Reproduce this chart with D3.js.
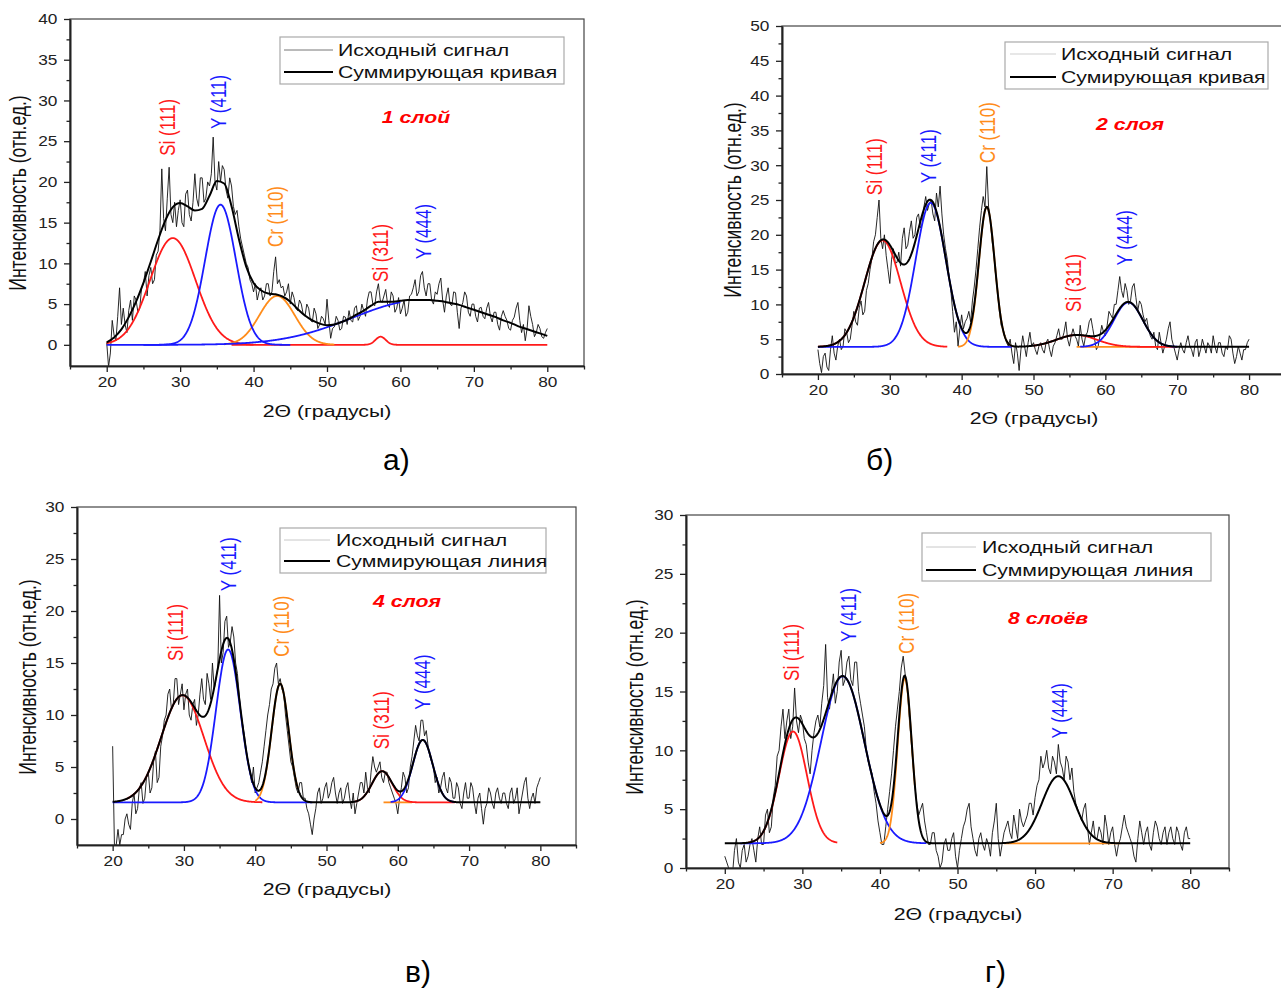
<!DOCTYPE html>
<html>
<head>
<meta charset="utf-8">
<script src="https://cdn.jsdelivr.net/npm/d3@7"></script>
<style>
  body { margin: 0; background: #fff; }
  svg text { font-family: "Liberation Sans", Arial, sans-serif; }
</style>
</head>
<body>
<svg id="fig" width="1281" height="989"></svg>
<script>
// raw diffractograms, 2θ = 20..80 step 0.25 (one row = 5 degrees)
const RAW_X0 = 20, RAW_DX = 0.25;

const rawA = [
  0.3, -2.7, -1.0, 3.0, 1.2, 0.5, 3.5, 7.0, 2.5, 4.5, 2.5, 1.5, 4.2, 5.5, 3.0, 6.0, 5.5, 4.0, 4.5, 7.0,
  7.5, 9.0, 6.0, 8.5, 9.5, 7.5, 8.0, 11.0, 11.5, 14.0, 21.6, 15.5, 14.0, 18.0, 21.8, 16.0, 15.0, 17.5, 14.5, 16.5,
  17.8, 15.0, 14.5, 18.5, 19.0, 16.0, 15.2, 17.5, 21.0, 18.0, 17.0, 20.5, 20.5, 17.5, 18.0, 20.0, 19.5, 21.0, 25.5, 20.0,
  19.0, 22.5, 20.0, 22.0, 21.5, 19.0, 18.0, 20.5, 19.5, 17.0, 16.0, 16.5, 14.5, 13.0, 12.0, 11.0, 10.0, 9.5, 8.0, 7.5,
  6.5, 7.5, 5.5, 6.5, 7.0, 5.5, 6.0, 7.5, 7.5, 6.0, 6.5, 9.0, 10.8, 7.5, 8.0, 7.0, 7.2, 6.0, 6.5, 7.5,
  5.0, 6.5, 5.8, 4.5, 4.2, 5.5, 5.0, 3.8, 3.5, 5.0, 4.5, 3.0, 2.8, 4.5, 3.8, 2.0, 2.5, 3.5, 3.2, 2.5,
  5.6, 3.0, 0.8, 2.0, 2.2, 3.5, 3.0, 1.8, 2.0, 3.5, 3.4, 2.5, 4.2, 3.0, 2.8, 4.5, 4.8, 3.0, 3.5, 5.0,
  4.2, 3.5, 5.5, 6.5, 6.5, 5.0, 4.8, 6.5, 7.5, 5.5, 5.2, 6.0, 6.8, 5.0, 4.6, 6.5, 6.0, 4.0, 4.5, 5.8,
  3.8, 4.5, 5.5, 3.5, 4.0, 6.0, 6.2, 7.0, 8.0, 6.0, 6.5, 8.5, 9.0, 7.0, 6.0, 7.5, 7.5, 5.5, 5.0, 6.5,
  6.2, 7.5, 8.2, 5.5, 4.0, 6.0, 7.0, 5.0, 4.8, 6.5, 6.4, 4.0, 2.0, 4.5, 5.2, 6.5, 6.0, 4.0, 3.5, 5.0,
  5.0, 3.5, 2.8, 4.5, 4.6, 3.5, 3.2, 4.5, 5.2, 3.5, 2.8, 4.0, 4.0, 2.5, 1.8, 3.5, 4.2, 3.5, 3.0, 2.0,
  1.8, 3.0, 3.4, 4.5, 5.2, 3.0, 1.5, 2.5, 0.5, 2.0, 4.8, 3.5, 2.5, 1.0, 1.5, 2.5, 2.0, 1.0, 0.8, 1.5,
  2.0
];

const rawB = [
  3.5, 1.5, 0.2, 2.5, 3.0, 1.0, 0.5, 3.5, 5.5, 3.0, 2.0, 4.0, 5.0, 3.5, 4.0, 6.5, 6.0, 4.5, 5.0, 7.0,
  9.0, 7.5, 7.0, 9.5, 10.5, 8.5, 9.0, 12.0, 13.0, 15.0, 16.5, 19.0, 20.0, 22.5, 25.0, 19.5, 18.0, 20.0, 17.0, 15.0,
  13.0, 16.5, 18.0, 16.0, 16.0, 17.5, 15.5, 19.5, 21.0, 18.0, 18.5, 20.5, 22.0, 19.5, 20.0, 22.5, 23.0, 21.0, 21.5, 24.0,
  25.5, 23.5, 24.5, 25.0, 23.0, 22.0, 26.0, 24.0, 27.0, 23.0, 20.0, 18.0, 16.5, 14.0, 12.0, 9.0, 6.0, 7.5, 4.0, 6.5,
  8.5, 6.5, 7.5, 8.0, 9.0, 7.5, 10.5, 12.5, 15.0, 18.0, 21.0, 23.5, 25.5, 24.0, 29.8, 24.0, 22.0, 19.0, 17.0, 14.0,
  12.0, 9.0, 7.0, 6.5, 5.5, 4.5, 4.0, 5.0, 3.0, 1.5, 4.5, 3.0, 0.5, 3.5, 5.5, 4.0, 2.5, 4.5, 6.0, 4.0,
  4.5, 3.5, 2.8, 4.0, 4.5, 3.5, 3.0, 4.5, 5.0, 3.5, 2.5, 4.0, 4.5, 5.5, 6.5, 5.0, 5.0, 6.0, 7.5, 5.0,
  4.0, 5.5, 6.5, 5.5, 5.0, 4.0, 7.0, 5.0, 4.0, 5.5, 6.0, 7.5, 8.0, 6.5, 5.0, 3.5, 4.0, 5.5, 7.0, 6.0,
  5.5, 7.0, 9.0, 8.5, 8.0, 10.0, 10.0, 12.0, 14.0, 12.0, 11.0, 13.0, 12.0, 10.0, 10.5, 12.5, 13.0, 11.0, 9.0, 10.5,
  10.0, 8.5, 7.5, 8.0, 6.5, 5.5, 5.0, 6.0, 4.0, 3.5, 6.0, 4.5, 3.0, 4.0, 5.0, 6.5, 7.5, 5.0, 4.0, 3.0,
  2.0, 3.5, 4.5, 3.5, 3.0, 4.5, 5.5, 4.0, 3.5, 2.5, 4.5, 5.0, 2.5, 3.5, 5.0, 4.0, 3.0, 4.5, 4.0, 3.0,
  5.5, 4.0, 3.0, 4.5, 4.5, 3.0, 2.5, 4.0, 3.5, 5.5, 5.0, 3.0, 1.5, 2.5, 4.0, 3.0, 2.0, 3.5, 3.5, 4.5,
  5.0
];

const rawC = [
  7.0, -2.5, -2.5, -1.0, -2.5, -1.5, -1.5, 0.0, 0.5, -0.5, -1.0, 1.5, 2.5, 0.5, 1.0, 3.0, 3.5, 1.5, 2.0, 4.0,
  4.5, 2.5, 3.0, 5.5, 6.5, 3.5, 4.0, 7.0, 8.0, 9.5, 10.0, 12.0, 12.5, 10.5, 11.0, 13.5, 13.5, 11.0, 12.0, 13.0,
  10.5, 12.0, 12.5, 10.0, 9.5, 11.0, 11.5, 9.0, 10.0, 12.0, 13.5, 11.5, 11.0, 14.0, 13.0, 11.5, 15.0, 12.5, 13.5, 14.5,
  21.5, 15.0, 16.0, 19.0, 19.5, 16.5, 17.0, 18.5, 17.5, 15.0, 14.0, 12.0, 10.0, 9.0, 8.0, 6.5, 5.5, 4.5, 3.5, 5.0,
  2.5, 3.0, 3.5, 4.5, 5.5, 7.0, 8.5, 10.0, 11.0, 12.5, 13.0, 14.5, 15.0, 13.0, 13.5, 12.5, 12.0, 10.0, 8.5, 7.0,
  5.5, 5.0, 4.0, 3.0, 2.5, 3.5, 3.5, 2.0, 2.0, 1.0, 0.5, -0.5, -1.5, 0.0, 1.0, 2.5, 3.0, 1.5, 2.0, 3.0,
  3.5, 2.0, 2.5, 3.5, 4.0, 2.5, 1.5, 2.5, 3.0, 1.5, 2.0, 3.0, 3.5, 2.0, 1.0, 2.5, 0.5, 1.5, 2.5, 3.5,
  3.5, 2.5, 4.5, 3.0, 2.5, 4.5, 6.0, 5.0, 4.5, 5.0, 5.5, 4.0, 3.5, 4.5, 4.5, 3.5, 3.0, 2.5, 2.0, 1.5,
  0.5, 2.0, 3.0, 4.5, 4.0, 2.5, 3.0, 5.0, 6.0, 7.5, 9.0, 8.0, 7.5, 9.5, 9.5, 8.0, 8.5, 7.0, 6.0, 5.5,
  5.0, 3.5, 4.0, 2.5, 3.0, 4.0, 4.5, 3.0, 2.5, 4.0, 3.5, 2.0, 2.0, 3.5, 3.0, 1.5, 1.0, 2.5, 3.5, 2.0,
  2.0, 3.5, 3.0, 1.5, 0.5, 2.0, 2.5, 1.0, -0.5, 1.0, 1.5, 3.0, 2.5, 1.5, 1.0, 2.5, 3.0, 2.0, 1.5, 2.5,
  2.5, 1.5, 1.0, 2.5, 3.0, 1.5, 2.0, 3.0, 0.5, 1.5, 2.5, 3.5, 4.0, 2.0, 1.0, 2.0, 2.5, 1.5, 3.0, 3.5,
  4.0
];

const rawD = [
  1.0, 0.5, 0.0, -0.5, -0.5, 1.5, 2.5, 0.5, 0.0, 1.5, 2.0, 0.5, 1.0, 2.0, 2.5, 1.5, 0.5, 2.5, 3.5, 2.0,
  2.0, 4.5, 5.0, 3.0, 3.5, 6.0, 7.0, 9.5, 10.0, 12.0, 13.5, 11.0, 12.5, 13.5, 11.0, 12.0, 15.3, 12.5, 11.5, 13.0,
  12.5, 11.0, 10.5, 9.0, 8.0, 10.0, 11.5, 12.5, 13.0, 12.0, 14.0, 15.5, 19.0, 14.5, 13.5, 15.0, 16.5, 14.0, 15.0, 17.5,
  18.5, 15.5, 16.0, 17.5, 18.0, 16.0, 15.5, 17.5, 17.5, 15.0, 14.0, 13.0, 12.0, 10.0, 9.0, 8.5, 8.0, 6.5, 5.5, 4.0,
  3.0, 2.0, 2.0, 3.5, 5.0, 6.5, 8.0, 10.0, 12.0, 13.5, 15.0, 17.0, 18.0, 16.5, 15.5, 13.0, 11.0, 9.0, 7.0, 5.5,
  4.5, 5.0, 5.5, 4.0, 3.0, 2.0, 2.0, 3.0, 3.0, 1.5, 1.0, 0.0, 0.5, 2.0, 2.5, 1.5, 1.5, 2.5, 3.0, 1.0,
  0.0, 1.5, 2.5, 3.5, 4.0, 5.0, 5.5, 3.5, 2.5, 1.5, 1.0, 2.5, 3.0, 2.0, 1.5, 2.5, 2.0, 1.0, 3.0, 4.0,
  5.5, 2.5, 1.0, 2.0, 3.0, 3.5, 4.0, 3.0, 2.5, 4.5, 3.5, 2.5, 5.0, 4.0, 3.5, 4.0, 4.5, 5.5, 5.5, 4.5,
  6.0, 7.0, 7.5, 9.5, 8.5, 9.0, 10.0, 8.5, 8.0, 9.5, 9.0, 8.0, 10.5, 9.0, 8.5, 7.5, 9.5, 9.0, 7.5, 8.5,
  6.5, 5.5, 5.0, 4.5, 4.0, 5.0, 5.5, 3.5, 2.0, 3.0, 4.0, 2.5, 2.5, 3.5, 3.0, 2.0, 4.5, 3.5, 2.0, 3.0,
  3.5, 2.0, 1.0, 2.0, 2.5, 3.5, 4.5, 3.5, 3.0, 2.5, 2.0, 1.0, 0.5, 2.5, 4.0, 3.0, 2.0, 3.0, 3.5, 2.0,
  1.5, 3.0, 4.0, 3.5, 2.5, 2.0, 3.0, 3.5, 2.0, 3.0, 3.5, 2.5, 2.0, 3.5, 3.0, 2.0, 1.5, 3.0, 3.5, 2.5,
  2.5
];

// published envelope of panel a (it is not the plain sum of its drawn peaks), 20..80 step 1
const FIT_X0 = 20, FIT_DX = 1;
const fitA = [
  0.3, 0.9, 1.9, 3.4, 5.3, 7.6, 10.2, 12.9, 15.3, 16.9,
  17.4, 17.0, 16.5, 16.7, 18.3, 20.1, 19.8, 17.0, 13.0, 9.6,
  7.6, 6.7, 6.3, 6.2, 5.9, 5.3, 4.4, 3.6, 3.0, 2.6,
  2.4, 2.5, 2.8, 3.2, 3.7, 4.2, 4.8, 5.3, 5.3, 5.3,
  5.4, 5.5, 5.5, 5.5, 5.5, 5.4, 5.3, 5.1, 4.9, 4.6,
  4.3, 4.0, 3.7, 3.4, 3.0, 2.7, 2.3, 2.0, 1.7, 1.4,
  1.1
];

// fitted peaks: centre, height above baseline, sigma, drawn range
const baseA = 0, baseB = 3.9, baseC = 1.6, baseD = 2.1;

const peaksA = [
  { phase: "Si", center: 29.0, height: 13.1, sigma: 3.1, from: 20, to: 40 },
  { phase: "Si", center: 57.3, height: 1.0, sigma: 0.7, from: 37, to: 80 },
  { phase: "Cr", center: 43.2, height: 6.0, sigma: 2.4, from: 36, to: 51 },
  { phase: "Y", center: 35.5, height: 17.2, sigma: 2.1, from: 25, to: 45 },
  { phase: "Y", center: 63.0, height: 5.5, sigma: 9.5, from: 20, to: 60 }
];
const peaksB = [
  { phase: "Si", center: 29.0, height: 15.3, sigma: 2.5, from: 20, to: 38 },
  { phase: "Y", center: 35.7, height: 20.7, sigma: 2.1, from: 20, to: 47 },
  { phase: "Cr", center: 43.5, height: 20.1, sigma: 1.1, from: 39.5, to: 47 },
  { phase: "Cr", center: 62.0, height: 0, sigma: 1, from: 56, to: 68 },
  { phase: "Si", center: 56.0, height: 1.7, sigma: 2.8, from: 50, to: 70 },
  { phase: "Y", center: 63.2, height: 6.4, sigma: 2.0, from: 56.5, to: 70 }
];
const peaksC = [
  { phase: "Si", center: 29.8, height: 10.3, sigma: 3.0, from: 22, to: 41 },
  { phase: "Y", center: 36.2, height: 14.7, sigma: 1.7, from: 20, to: 48 },
  { phase: "Cr", center: 43.5, height: 11.4, sigma: 1.2, from: 40, to: 46 },
  { phase: "Cr", center: 60.0, height: 0, sigma: 1, from: 58, to: 62 },
  { phase: "Si", center: 57.8, height: 3.0, sigma: 1.4, from: 54, to: 68 },
  { phase: "Y", center: 63.5, height: 6.0, sigma: 1.4, from: 59, to: 68 }
];
const peaksD = [
  { phase: "Si", center: 28.8, height: 9.5, sigma: 1.8, from: 23, to: 34.5 },
  { phase: "Y", center: 35.2, height: 14.2, sigma: 2.8, from: 22, to: 46 },
  { phase: "Cr", center: 43.2, height: 14.0, sigma: 0.9, from: 40, to: 44.5 },
  { phase: "Cr", center: 63.0, height: 0, sigma: 1, from: 56, to: 71 },
  { phase: "Y", center: 63.0, height: 5.7, sigma: 2.1, from: 56, to: 71, hidden: true }
];

// reflection labels (2θ, intensity at the foot of the label)
const tagsA = [
  { text: "Si (111)", phase: "Si", x: 28.3, y: 23.2 },
  { text: "Y (411)", phase: "Y", x: 35.3, y: 26.5 },
  { text: "Cr (110)", phase: "Cr", x: 43.1, y: 12.0 },
  { text: "Si (311)", phase: "Si", x: 57.4, y: 7.7 },
  { text: "Y (444)", phase: "Y", x: 63.2, y: 10.5 }
];
const tagsB = [
  { text: "Si (111)", phase: "Si", x: 28.0, y: 25.7 },
  { text: "Y (411)", phase: "Y", x: 35.4, y: 27.4 },
  { text: "Cr (110)", phase: "Cr", x: 43.6, y: 30.3 },
  { text: "Si (311)", phase: "Si", x: 55.7, y: 8.9 },
  { text: "Y (444)", phase: "Y", x: 62.8, y: 15.6 }
];
const tagsC = [
  { text: "Si (111)", phase: "Si", x: 28.9, y: 15.2 },
  { text: "Y (411)", phase: "Y", x: 36.3, y: 21.9 },
  { text: "Cr (110)", phase: "Cr", x: 43.8, y: 15.6 },
  { text: "Si (311)", phase: "Si", x: 57.8, y: 6.7 },
  { text: "Y (444)", phase: "Y", x: 63.5, y: 10.5 }
];
const tagsD = [
  { text: "Si (111)", phase: "Si", x: 28.7, y: 15.9 },
  { text: "Y (411)", phase: "Y", x: 36.0, y: 19.2 },
  { text: "Cr (110)", phase: "Cr", x: 43.5, y: 18.2 },
  { text: "Y (444)", phase: "Y", x: 63.2, y: 11.0 }
];

const xMajorTicks = [20, 30, 40, 50, 60, 70, 80];
const xMinorTicks = [15, 25, 35, 45, 55, 65, 75, 85];

const legendRaw = "Исходный сигнал";
const PHASE_COLOR = { Si: "#ff1a1a", Y: "#1a1aff", Cr: "#ff8c1a" };
const KX = 1.33;      // the source figure is stretched horizontally
const KX_TICK = 1.15;
const FONT = '"Liberation Sans", Arial, sans-serif';

const panels = [
  {
    id: "a", raw: rawA, fit: fitA, base: baseA, peaks: peaksA, tags: tagsA,
    yDomain: [-2.6, 40], box: { l: 70, r: 584, t: 19, b: 366 },
    layer: "1 слой", layerPos: [416, 123],
    legend: { l: 280, r: 564, t: 37, b: 84, rows: [50, 72], sample: [284, 333], textX: 338, rawColor: "#777" },
    sumName: "Суммирующая кривая",
    yTitle: [26, 193], xTitle: [327, 417], caption: ["а)", 383, 470]
  },
  {
    id: "b", raw: rawB, fit: null, base: baseB, peaks: peaksB, tags: tagsB,
    yDomain: [0, 50], box: { l: 782, r: 1285, t: 26, b: 374 },
    layer: "2 слоя", layerPos: [1130, 130],
    legend: { l: 1005, r: 1268, t: 42, b: 89, rows: [54, 77], sample: [1010, 1056], textX: 1061, rawColor: "#cfcfcf" },
    sumName: "Сумирующая кривая",
    yTitle: [741, 200], xTitle: [1034, 424], caption: ["б)", 866, 470], clipY: 428
  },
  {
    id: "c", raw: rawC, fit: null, base: baseC, peaks: peaksC, tags: tagsC,
    yDomain: [-2.5, 30], box: { l: 77, r: 576, t: 507, b: 845 },
    layer: "4 слоя", layerPos: [407, 607],
    legend: { l: 280, r: 546, t: 528, b: 573, rows: [540, 561], sample: [284, 330], textX: 336, rawColor: "#c8c8c8" },
    sumName: "Суммирующая линия",
    yTitle: [36, 677], xTitle: [327, 895], caption: ["в)", 405, 982]
  },
  {
    id: "d", raw: rawD, fit: null, base: baseD, peaks: peaksD, tags: tagsD,
    yDomain: [0, 30], box: { l: 686, r: 1229, t: 515, b: 868 },
    layer: "8 слоёв", layerPos: [1048, 624],
    legend: { l: 922, r: 1211, t: 533, b: 581, rows: [547, 570], sample: [926, 976], textX: 982, rawColor: "#c8c8c8" },
    sumName: "Суммирующая линия",
    yTitle: [643, 697], xTitle: [958, 920], caption: ["г)", 985, 982]
  }
];

const svg = d3.select("#fig");
svg.append("rect").attr("width", 1281).attr("height", 989).attr("fill", "#fff");
const defs = svg.append("defs");

function gauss(pk, t) {
  return pk.height * Math.exp(-((t - pk.center) ** 2) / (2 * pk.sigma * pk.sigma));
}

function stretched(parent, x, y, str, rotate) {
  return parent
    .append("text")
    .attr("transform", `translate(${x},${y}) scale(${KX},1)` + (rotate ? " rotate(-90)" : ""))
    .text(str);
}

function drawPanel(p) {
  const g = svg.append("g").attr("id", "panel-" + p.id);
  if (p.clipY) {
    defs.append("clipPath").attr("id", "page-" + p.id)
      .append("rect").attr("x", 0).attr("y", 0).attr("width", 1281).attr("height", p.clipY);
    g.attr("clip-path", `url(#page-${p.id})`);
  }
  const { l, r, t, b } = p.box;
  const x = d3.scaleLinear().domain([15, 85]).range([l, r]);
  const y = d3.scaleLinear().domain(p.yDomain).range([b, t]);

  defs.append("clipPath").attr("id", "plot-" + p.id)
    .append("rect").attr("x", l).attr("y", t).attr("width", r - l).attr("height", b - t);
  const plot = g.append("g").attr("clip-path", `url(#plot-${p.id})`);

  const line = d3.line().x((d) => x(d[0])).y((d) => y(d[1]));

  // raw signal
  const rawPts = p.raw.map((v, i) => [RAW_X0 + i * RAW_DX, v]);
  plot.append("path").datum(rawPts)
    .attr("d", line)
    .attr("fill", "none").attr("stroke", "#111").attr("stroke-width", 0.9);

  // single peaks
  p.peaks.forEach((pk) => {
    if (pk.hidden) return;
    const pts = d3.range(pk.from, pk.to + 1e-9, 0.05).map((t) => [t, p.base + gauss(pk, t)]);
    plot.append("path").datum(pts)
      .attr("d", line)
      .attr("fill", "none").attr("stroke", PHASE_COLOR[pk.phase]).attr("stroke-width", 1.8);
  });

  // envelope
  let fitPts;
  if (p.fit) {
    fitPts = p.fit.map((v, i) => [FIT_X0 + i * FIT_DX, v]);
  } else {
    fitPts = d3.range(20, 80 + 1e-9, 0.05).map((t) => [t, p.base + d3.sum(p.peaks, (pk) => gauss(pk, t))]);
  }
  plot.append("path").datum(fitPts)
    .attr("d", line.curve(p.fit ? d3.curveMonotoneX : d3.curveLinear))
    .attr("fill", "none").attr("stroke", "#000").attr("stroke-width", 2);

  // frame
  g.append("rect").attr("x", l).attr("y", t).attr("width", r - l).attr("height", b - t)
    .attr("fill", "none").attr("stroke", "#444").attr("stroke-width", 1.2);

  // axes
  const yMax = p.yDomain[1];
  const yMajor = d3.range(0, yMax + 0.01, 5);
  const yMinor = d3.range(2.5, yMax, 5);

  const styleAxis = (sel) => {
    sel.attr("font-family", FONT).attr("font-size", 15);
    sel.select(".domain").attr("stroke", "#222").attr("stroke-width", 1.6);
    sel.selectAll(".tick line").attr("stroke", "#222").attr("stroke-width", 1.3);
    sel.selectAll(".tick text").attr("fill", "#222").attr("transform", `scale(${KX_TICK},1)`);
  };

  g.append("g").attr("transform", `translate(0,${b})`)
    .call(d3.axisBottom(x).tickValues(xMinorTicks).tickSize(3.5).tickFormat("").tickSizeOuter(0))
    .call(styleAxis);
  g.append("g").attr("transform", `translate(0,${b})`)
    .call(d3.axisBottom(x).tickValues(xMajorTicks).tickSize(6).tickPadding(4).tickSizeOuter(0))
    .call(styleAxis);
  g.append("g").attr("transform", `translate(${l},0)`)
    .call(d3.axisLeft(y).tickValues(yMinor).tickSize(3.5).tickFormat("").tickSizeOuter(0))
    .call(styleAxis);
  g.append("g").attr("transform", `translate(${l},0)`)
    .call(d3.axisLeft(y).tickValues(yMajor).tickSize(6).tickPadding(5).tickSizeOuter(0))
    .call(styleAxis);

  // axis titles
  stretched(g, p.yTitle[0], p.yTitle[1], "Интенсивность (отн.ед.)", true)
    .attr("text-anchor", "middle").attr("font-size", 17.5).attr("fill", "#111");
  stretched(g, p.xTitle[0], p.xTitle[1], "2Θ (градусы)", false)
    .attr("text-anchor", "middle").attr("font-size", 16).attr("fill", "#111");

  // reflection labels
  p.tags.forEach((tg) => {
    stretched(g, x(tg.x) + 7, y(tg.y), tg.text, true)
      .attr("text-anchor", "start").attr("font-size", 17)
      .attr("fill", PHASE_COLOR[tg.phase]);
  });

  // number of layers
  stretched(g, p.layerPos[0], p.layerPos[1], p.layer, false)
    .attr("text-anchor", "middle").attr("font-size", 16)
    .attr("font-weight", "bold").attr("font-style", "italic").attr("fill", "#f00");

  // legend
  const lg = p.legend;
  g.append("rect").attr("x", lg.l).attr("y", lg.t).attr("width", lg.r - lg.l).attr("height", lg.b - lg.t)
    .attr("fill", "#fff").attr("stroke", "#aaa").attr("stroke-width", 1.2);
  const rows = [
    { name: legendRaw, color: lg.rawColor, width: 1 },
    { name: p.sumName, color: "#000", width: 2 }
  ];
  rows.forEach((row, i) => {
    const cy = lg.rows[i];
    g.append("line").attr("x1", lg.sample[0]).attr("x2", lg.sample[1]).attr("y1", cy).attr("y2", cy)
      .attr("stroke", row.color).attr("stroke-width", row.width);
    stretched(g, lg.textX, cy + 6, row.name, false)
      .attr("font-size", 16).attr("fill", "#111");
  });

  // sub-figure caption
  svg.append("text").attr("x", p.caption[1]).attr("y", p.caption[2])
    .attr("font-family", '"Liberation Serif", "Times New Roman", serif')
    .attr("font-size", 30).attr("fill", "#000").text(p.caption[0]);
}

panels.forEach(drawPanel);
</script>
</body>
</html>
